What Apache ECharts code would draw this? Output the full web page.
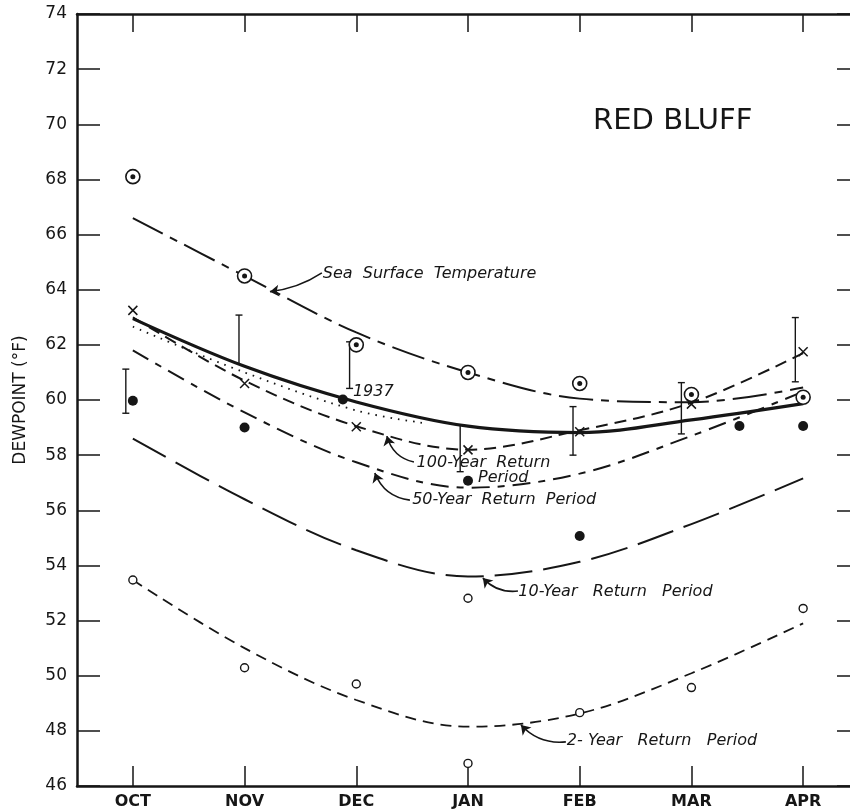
<!DOCTYPE html>
<html>
<head>
<meta charset="utf-8">
<script src="https://cdn.jsdelivr.net/npm/echarts@6/dist/echarts.min.js"></script>
<style>
html,body{margin:0;padding:0;background:#fff;}
#chart{width:850px;height:811px;}
</style>
</head>
<body>
<div id="chart"></div>
<script>
// ---------- data ----------
const months = ['OCT', 'NOV', 'DEC', 'JAN', 'FEB', 'MAR', 'APR'];
const yTicks = [46, 74, 2]; // min, max, step

const seaSurfaceCurve = [66.6, 64.5, 62.45, 61.0, 60.05, 59.92, 60.45];
const seaSurfaceObs = [68.1, 64.5, 62.0, 61.0, 60.6, 60.2, 60.1];

const curve1937 = [62.95, 61.22, 59.93, 59.05, 58.82, 59.28, 59.87];
const dottedX = [0, 1, 2, 2.63];
const dottedY = [62.66, 61.0, 59.62, 59.15];

const rp100Curve = [63.0, 60.7, 59.05, 58.2, 58.9, 59.9, 61.7];
const rp100Obs = [63.25, 60.6, 59.03, 58.19, 58.85, 59.85, 61.75];
const rp50Curve = [61.8, 59.55, 57.74, 56.82, 57.33, 58.7, 60.3];
const rp10Curve = [58.6, 56.4, 54.55, 53.6, 54.13, 55.5, 57.16];
const rp2Curve = [53.47, 51.0, 49.12, 48.15, 48.63, 50.09, 51.9];

const openX = [0, 1, 2, 3, 3, 4, 5, 6];
const openY = [53.47, 50.29, 49.7, 52.81, 46.82, 48.66, 49.57, 52.44];

const dotX = [0, 1, 1.88, 3, 4, 5.43, 6];
const dotY = [59.97, 59.0, 60.02, 57.07, 55.07, 59.06, 59.06];

const barX = [-0.063, 0.95, 1.94, 2.93, 3.94, 4.91, 5.93];
const barLow = [59.52, 61.27, 60.42, 57.4, 58.0, 58.77, 60.66];
const barHigh = [61.12, 63.08, 62.11, 59.09, 59.76, 60.63, 62.99];
const barCapLow = [1, 0, 1, 1, 1, 1, 1];
const barCapHigh = [1, 1, 1, 0, 1, 1, 1];

const noteText = ['Sea  Surface  Temperature', '1937', '100-Year  Return', 'Period',
  '50-Year  Return  Period', '10-Year   Return   Period', '2- Year   Return   Period'];
const noteX = [1.70, 1.97, 2.54, 3.09, 2.50, 3.45, 3.885];
const noteY = [64.57, 60.29, 57.71, 57.17, 56.37, 53.04, 47.63];

const arrowFromX = [1.692, 2.516, 2.48, 3.447, 3.876];
const arrowFromY = [64.61, 57.75, 56.37, 53.07, 47.6];
const arrowToX = [1.227, 2.274, 2.166, 3.133, 3.474];
const arrowToY = [63.93, 58.69, 57.35, 53.54, 48.21];
const arrowBend = [0.12, 0.3, 0.3, 0.25, 0.25];

const stationName = 'RED BLUFF';
const stationPos = [4.12, 70.12];
const yTitle = 'DEWPOINT (°F)';

// ---------- chart ----------
const INK = '#161616';
const pairs = (xs, ys) => xs.map((x, i) => [x, ys[i]]);
const monthPairs = ys => ys.map((v, i) => [i, v]);

function curve(name, ys, type, width) {
  return {
    name, type: 'line', xAxisIndex: 1, yAxisIndex: 0,
    data: Array.isArray(ys[0]) ? ys : monthPairs(ys),
    smooth: 0.35, showSymbol: false, symbol: 'none', silent: true,
    lineStyle: { color: INK, width: width, type: type, cap: 'butt' },
    z: 2
  };
}

const chart = echarts.init(document.getElementById('chart'), null, { renderer: 'canvas' });

const option = {
  backgroundColor: '#ffffff',
  animation: false,
  textStyle: { fontFamily: 'DejaVu Sans' },
  grid: { left: 77, top: 14, right: -9, bottom: 25, containLabel: false, outerBoundsMode: 'none' },
  xAxis: [
    {
      type: 'category', data: months, position: 'bottom', boundaryGap: true,
      axisLine: { show: true, onZero: false, lineStyle: { color: INK, width: 2.5 } },
      axisTick: { show: true, inside: true, alignWithLabel: true, length: 20, lineStyle: { color: INK, width: 1.5 } },
      axisLabel: { color: INK, fontSize: 16, fontWeight: 'bold', margin: 8, fontFamily: 'DejaVu Sans' },
      splitLine: { show: false }
    },
    {
      type: 'value', min: -0.5, max: 6.5, show: false
    },
    {
      type: 'category', data: months, position: 'top', boundaryGap: true,
      axisLine: { show: true, onZero: false, lineStyle: { color: INK, width: 2.5 } },
      axisTick: { show: true, inside: true, alignWithLabel: true, length: 18, lineStyle: { color: INK, width: 1.5 } },
      axisLabel: { show: false },
      splitLine: { show: false }
    }
  ],
  yAxis: [
    {
      type: 'value', min: yTicks[0], max: yTicks[1], interval: yTicks[2], position: 'left',
      name: yTitle, nameLocation: 'middle', nameRotate: 90, nameGap: 48,
      nameTextStyle: { color: INK, fontSize: 17, fontFamily: 'DejaVu Sans' },
      axisLine: { show: true, onZero: false, lineStyle: { color: INK, width: 2.5 } },
      axisTick: { show: true, inside: true, length: 23, lineStyle: { color: INK, width: 1.5 } },
      axisLabel: { color: INK, fontSize: 17, margin: 10, fontFamily: 'DejaVu Sans' },
      splitLine: { show: false }
    },
    {
      type: 'value', min: yTicks[0], max: yTicks[1], interval: yTicks[2], position: 'right',
      axisLine: { show: true, onZero: false, lineStyle: { color: INK, width: 2.5 } },
      axisTick: { show: true, inside: true, length: 22, lineStyle: { color: INK, width: 1.5 } },
      axisLabel: { show: false },
      splitLine: { show: false }
    }
  ],
  series: [
    curve('Sea Surface Temperature', seaSurfaceCurve, [34, 8, 8, 8], 2),
    curve('1937', curve1937, 'solid', 3.2),
    curve('Dotted', pairs(dottedX, dottedY), [1.6, 6], 1.8),
    curve('100-Year Return Period', rp100Curve, [12, 7], 2),
    curve('50-Year Return Period', rp50Curve, [18, 8, 7, 8], 2),
    curve('10-Year Return Period', rp10Curve, [38, 11], 2),
    curve('2-Year Return Period', rp2Curve, [11, 7], 1.8),
    {
      name: 'Error bars', type: 'custom', xAxisIndex: 1, yAxisIndex: 0, silent: true, z: 3,
      data: barX.map((x, i) => [x, barLow[i], barHigh[i], barCapLow[i], barCapHigh[i]]),
      renderItem: function (params, api) {
        const x = api.value(0);
        const top = api.coord([x, api.value(2)]);
        const bot = api.coord([x, api.value(1)]);
        const st = { stroke: INK, lineWidth: 1.4 };
        const kids = [{ type: 'line', shape: { x1: top[0], y1: top[1], x2: bot[0], y2: bot[1] }, style: st }];
        const hw = 3.5;
        if (api.value(4)) kids.push({ type: 'line', shape: { x1: top[0] - hw, y1: top[1], x2: top[0] + hw, y2: top[1] }, style: st });
        if (api.value(3)) kids.push({ type: 'line', shape: { x1: bot[0] - hw, y1: bot[1], x2: bot[0] + hw, y2: bot[1] }, style: st });
        return { type: 'group', children: kids };
      }
    },
    {
      name: 'Sea surface obs ring', type: 'scatter', xAxisIndex: 1, yAxisIndex: 0, silent: true, z: 5,
      data: monthPairs(seaSurfaceObs), symbol: 'circle', symbolSize: 14,
      itemStyle: { color: '#ffffff', borderColor: INK, borderWidth: 1.6, opacity: 1 }
    },
    {
      name: 'Sea surface obs dot', type: 'scatter', xAxisIndex: 1, yAxisIndex: 0, silent: true, z: 6,
      data: monthPairs(seaSurfaceObs), symbol: 'circle', symbolSize: 5,
      itemStyle: { color: INK, opacity: 1 }
    },
    {
      name: '100-year obs', type: 'scatter', xAxisIndex: 1, yAxisIndex: 0, silent: true, z: 6,
      data: monthPairs(rp100Obs), symbol: 'path://M0,0L10,10M10,0L0,10', symbolSize: 9,
      itemStyle: { color: 'rgba(0,0,0,0)', borderColor: INK, borderWidth: 1.5, opacity: 1 }
    },
    {
      name: 'Filled obs', type: 'scatter', xAxisIndex: 1, yAxisIndex: 0, silent: true, z: 6,
      data: pairs(dotX, dotY), symbol: 'circle', symbolSize: 10,
      itemStyle: { color: INK, opacity: 1 }
    },
    {
      name: 'Open obs', type: 'scatter', xAxisIndex: 1, yAxisIndex: 0, silent: true, z: 6,
      data: pairs(openX, openY), symbol: 'circle', symbolSize: 8,
      itemStyle: { color: '#ffffff', borderColor: INK, borderWidth: 1.4, opacity: 1 }
    },
    {
      name: 'Arrows', type: 'lines', coordinateSystem: 'cartesian2d', xAxisIndex: 1, yAxisIndex: 0,
      silent: true, z: 4, polyline: false,
      data: arrowFromX.map((x, i) => ({
        coords: [[x, arrowFromY[i]], [arrowToX[i], arrowToY[i]]],
        lineStyle: { curveness: arrowBend[i] }
      })),
      symbol: ['none', 'arrow'], symbolSize: [0, 9],
      lineStyle: { color: INK, width: 1.6, curveness: 0.25, opacity: 1 }
    },
    {
      name: 'Notes', type: 'scatter', xAxisIndex: 1, yAxisIndex: 0, silent: true, z: 7,
      symbolSize: 0, itemStyle: { opacity: 1 },
      data: noteX.map((x, i) => ({ value: [x, noteY[i]], label: { formatter: noteText[i] } })),
      label: {
        show: true, position: 'right', distance: 0, color: INK, opacity: 1,
        fontSize: 16, fontStyle: 'italic', fontFamily: 'DejaVu Sans', verticalAlign: 'middle'
      }
    },
    {
      name: 'Station', type: 'scatter', xAxisIndex: 1, yAxisIndex: 0, silent: true, z: 7,
      symbolSize: 0, itemStyle: { opacity: 1 },
      data: [{ value: stationPos, label: { formatter: stationName } }],
      label: {
        show: true, position: 'right', distance: 0, color: INK, opacity: 1,
        fontSize: 29, fontFamily: 'DejaVu Sans', verticalAlign: 'middle'
      }
    }
  ]
};
chart.setOption(option);
</script>
</body>
</html>
